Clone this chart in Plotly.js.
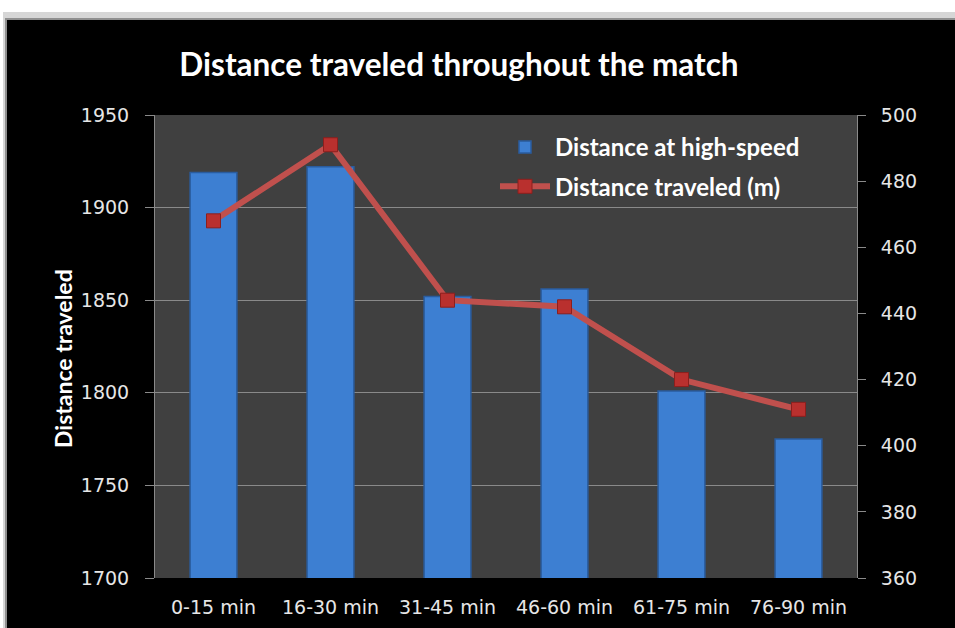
<!DOCTYPE html>
<html>
<head>
<meta charset="utf-8">
<script src="https://cdn.plot.ly/plotly-3.0.1.min.js"></script>
<style>
  html, body { margin: 0; padding: 0; background: #ffffff; overflow: hidden; }
  #page { position: relative; width: 955px; height: 628px; overflow: hidden; background: #ffffff; }
  #frame { position: absolute; left: 3px; top: 12px; width: 952px; height: 616px; background: #d6d6d6; }
  #frameEdge { position: absolute; left: 5px; top: 18px; width: 950px; height: 610px; background: #8f8f8f; }
  #chart { position: absolute; left: 7px; top: 20px; width: 948px; height: 608px; background: #000000; }
</style>
</head>
<body>
<div id="page">
  <div id="frame"></div>
  <div id="frameEdge"></div>
  <div id="chart"></div>
</div>
<script>
// Match periods and the two measured series
const periods = ['0-15 min', '16-30 min', '31-45 min', '46-60 min', '61-75 min', '76-90 min'];
const highSpeed = [1919, 1922, 1852, 1856, 1801, 1775];   // left axis
const traveled = [468, 491, 444, 442, 420, 411];           // right axis

const leftTicks = [1700, 1750, 1800, 1850, 1900, 1950];
const rightTicks = [360, 380, 400, 420, 440, 460, 480, 500];

const textFont = 'DejaVu Sans, sans-serif';
const boldFont = 'Lato, sans-serif';

const traces = [
  {
    type: 'bar',
    name: 'Distance at high-speed',
    x: periods,
    y: highSpeed,
    yaxis: 'y',
    width: 0.4,
    legendgroup: 'a',
    marker: { color: '#3d7fd2', line: { color: '#2a5c9e', width: 1.5 } },
    hoverinfo: 'x+y'
  },
  {
    type: 'scatter',
    mode: 'lines+markers',
    name: 'Distance traveled (m)',
    x: periods,
    y: traveled,
    yaxis: 'y2',
    legendgroup: 'b',
    line: { color: '#c0504d', width: 6 },
    marker: { symbol: 'square', size: 14, color: '#b9302e', line: { color: '#8c1f1d', width: 1 } },
    hoverinfo: 'x+y'
  }
];

const layout = {
  width: 948,
  height: 608,
  paper_bgcolor: '#000000',
  plot_bgcolor: '#404040',
  margin: { l: 148, r: 98, t: 95, b: 50 },
  showlegend: true,
  title: {
    text: '<b>Distance traveled throughout the match</b>',
    font: { family: boldFont, size: 31.5, color: '#ffffff' },
    xref: 'container', x: 452 / 948, xanchor: 'center',
    yref: 'container', y: 1 - 45 / 608, yanchor: 'middle'
  },
  xaxis: {
    type: 'category',
    range: [-0.5, 5.5],
    showgrid: false,
    zeroline: false,
    showline: false,
    ticks: '',
    ticklabelstandoff: 16,
    tickfont: { family: textFont, size: 19, color: '#e6e6e6' },
    fixedrange: true
  },
  yaxis: {
    range: [1700, 1950],
    tickvals: leftTicks,
    ticktext: leftTicks.map(String),
    showgrid: true,
    gridcolor: '#8a8a8a',
    gridwidth: 1,
    zeroline: false,
    showline: true,
    linecolor: '#8a8a8a',
    linewidth: 1,
    ticks: 'outside',
    ticklen: 9,
    tickcolor: '#8a8a8a',
    ticklabelstandoff: 12,
    tickfont: { family: textFont, size: 19, color: '#e6e6e6' },
    fixedrange: true
  },
  yaxis2: {
    overlaying: 'y',
    side: 'right',
    range: [360, 500],
    tickvals: rightTicks,
    ticktext: rightTicks.map(String),
    showgrid: false,
    zeroline: false,
    showline: true,
    linecolor: '#8a8a8a',
    linewidth: 1,
    ticks: 'outside',
    ticklen: 8,
    tickcolor: '#8a8a8a',
    ticklabelstandoff: 11,
    tickfont: { family: textFont, size: 19, color: '#e6e6e6' },
    fixedrange: true
  },
  legend: {
    x: (495 - 155) / 702, xanchor: 'left',
    y: 1 - (125 - 115) / 463, yanchor: 'top',
    bgcolor: 'rgba(0,0,0,0)',
    borderwidth: 0,
    traceorder: 'grouped',
    tracegroupgap: 5,
    font: { family: boldFont, size: 24, color: '#ffffff', weight: 'bold' },
    itemwidth: 50
  },
  annotations: [
    {
      text: '<b>Distance traveled</b>',
      textangle: -90,
      xref: 'paper', x: (63 - 155) / 702, xanchor: 'center',
      yref: 'paper', y: 1 - (359 - 115) / 463, yanchor: 'middle',
      showarrow: false,
      font: { family: boldFont, size: 23, color: '#ffffff' }
    }
  ]
};

Plotly.newPlot('chart', traces, layout, { displayModeBar: false, staticPlot: true });
</script>
</body>
</html>
